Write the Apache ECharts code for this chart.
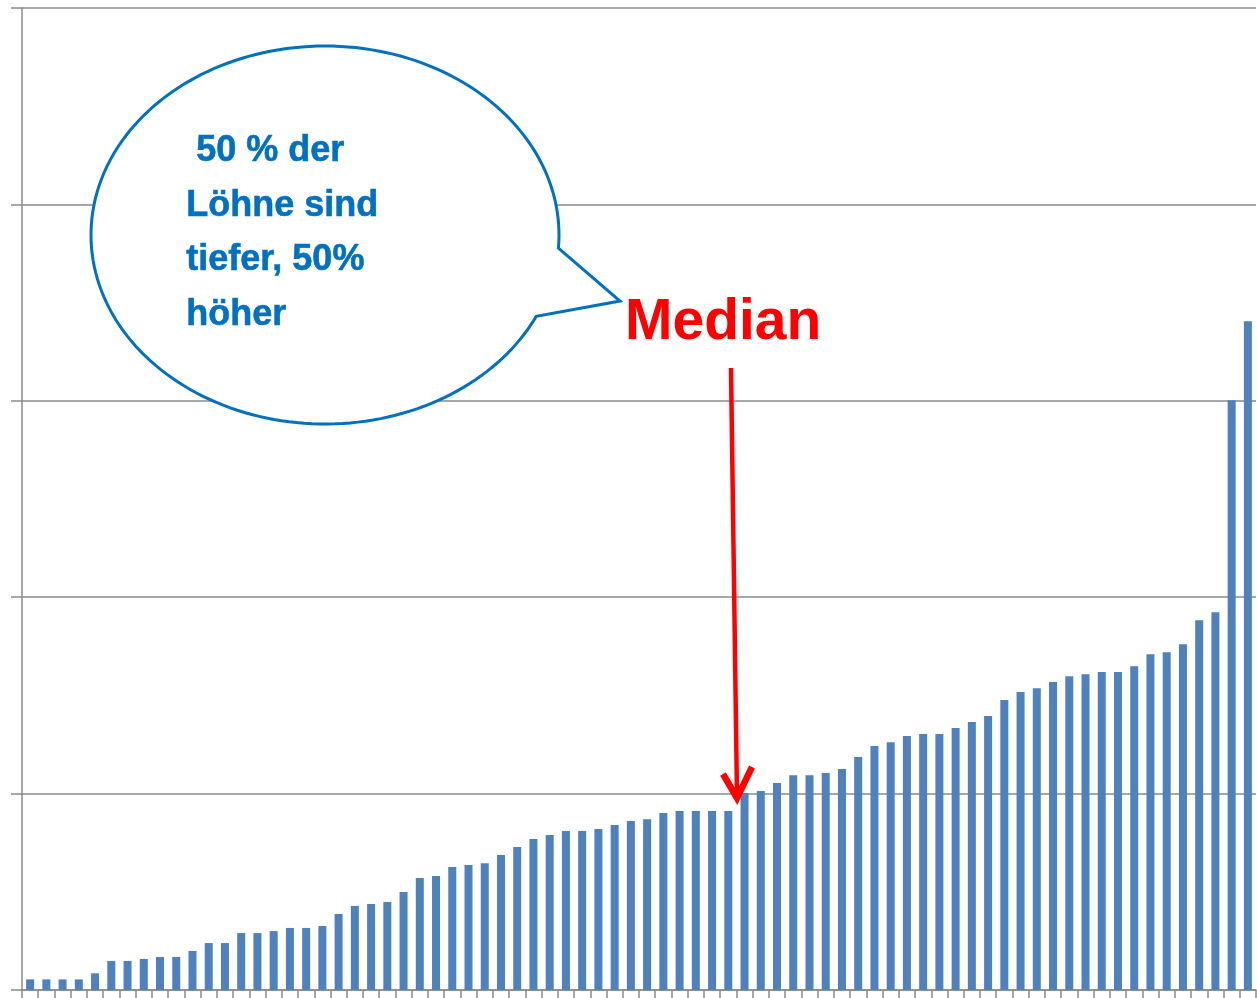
<!DOCTYPE html>
<html>
<head>
<meta charset="utf-8">
<script src="https://cdn.jsdelivr.net/npm/echarts@6/dist/echarts.min.js"></script>
<style>
html,body{margin:0;padding:0;background:#fff;}
#chart{width:1257px;height:998px;}
</style>
</head>
<body>
<div id="chart"></div>
<script>
// Sorted wages (unit: gridline step = 1000)
const categories = Array.from({length: 76}, (_, i) => String(i + 1));
const wages = [
  54, 54, 54, 54, 85, 148, 148, 158, 168, 168,
  199, 239, 239, 290, 290, 300, 316, 316, 326, 387,
  428, 438, 448, 499, 570, 580, 626, 636, 646, 687,
  728, 769, 789, 809, 809, 820, 840, 860, 870, 901,
  911, 911, 911, 911, 1003, 1013, 1054, 1094, 1094, 1105,
  1125, 1186, 1242, 1262, 1293, 1303, 1303, 1334, 1364, 1395,
  1476, 1517, 1537, 1568, 1598, 1608, 1619, 1619, 1649, 1710,
  1720, 1761, 1883, 1924, 3003, 3405
];
const bubbleLines = [' 50 % der', 'Löhne sind', 'tiefer, 50%', 'höher'];
const medianLabel = 'Median';

// speech-bubble outline (annotation shape)
function bubblePoints() {
  const cx = 325, cy = 235, rx = 234, ry = 189;
  const a0 = 25.5 * Math.PI / 180, a1 = (360 + 4) * Math.PI / 180;
  const pts = [];
  const n = 180;
  for (let i = 0; i <= n; i++) {
    const a = a0 + (a1 - a0) * i / n;
    pts.push([cx + rx * Math.cos(a), cy + ry * Math.sin(a)]);
  }
  pts.push([620, 301]);
  return pts;
}

const chart = echarts.init(document.getElementById('chart'), null, {renderer: 'canvas'});
const axisGrey = '#8a8a8a';
const blue = '#0070C0';
const red = '#FF0000';

const option = {
  animation: false,
  grid: {left: 22, right: 1, top: 8, bottom: 8, containLabel: false},
  xAxis: {
    type: 'category',
    data: categories,
    boundaryGap: true,
    axisLine: {lineStyle: {color: axisGrey, width: 1.5}},
    axisTick: {show: true, interval: 0, length: 8, lineStyle: {color: axisGrey, width: 1.5}},
    axisLabel: {show: false, interval: 0},
    splitLine: {show: false}
  },
  yAxis: {
    type: 'value',
    min: 0, max: 5000, interval: 1000,
    axisLine: {show: true, lineStyle: {color: axisGrey, width: 1.5}},
    axisTick: {show: true, length: 11, lineStyle: {color: axisGrey, width: 1.5}},
    axisLabel: {show: false},
    splitLine: {show: true, lineStyle: {color: axisGrey, width: 1.5}}
  },
  series: [{
    type: 'bar',
    data: wages,
    barWidth: 8,
    itemStyle: {color: '#4F81BD'}
  }],
  graphic: [
    {
      type: 'polygon',
      z: 100,
      shape: {points: bubblePoints()},
      style: {fill: '#fff', stroke: blue, lineWidth: 3, lineJoin: 'miter'}
    },
    {
      type: 'text', z: 101, left: 186, top: 124,
      style: {
        text: bubbleLines.join('\n'),
        fill: blue,
        stroke: blue,
        lineWidth: 0.6,
        font: 'bold 36px "Liberation Sans", Arial, sans-serif',
        lineHeight: 54.5
      }
    },
    {
      type: 'text', z: 101, left: 625, top: 295,
      style: {
        text: medianLabel,
        fill: red,
        font: 'bold 57px "Liberation Sans", Arial, sans-serif'
      }
    },
    {
      type: 'line', z: 101,
      shape: {x1: 731, y1: 368, x2: 737, y2: 796},
      style: {stroke: red, lineWidth: 4.5}
    },
    {
      type: 'polyline', z: 101,
      shape: {points: [[723, 774], [737, 798], [752, 767]]},
      style: {stroke: red, lineWidth: 6.5, fill: null, lineJoin: 'miter'}
    }
  ]
};
chart.setOption(option);
</script>
</body>
</html>
